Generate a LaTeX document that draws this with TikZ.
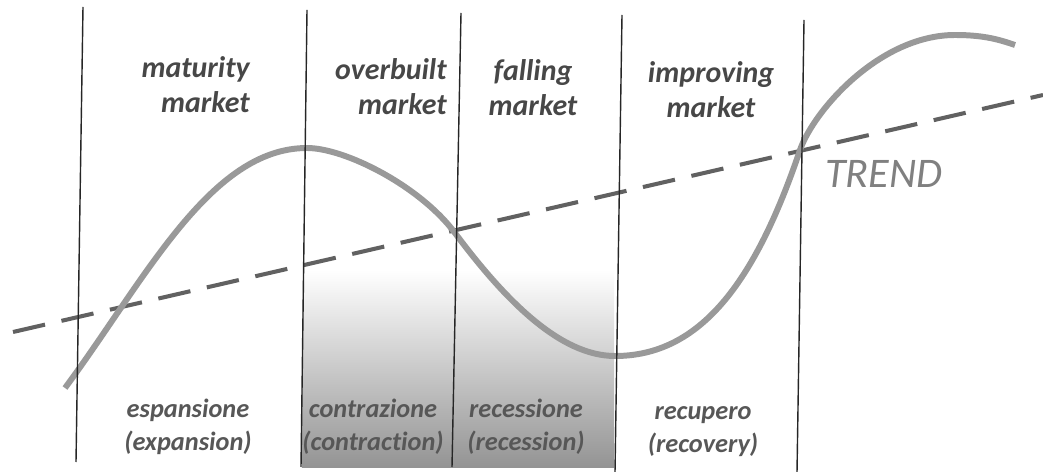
\documentclass[tikz,border=0pt]{standalone}
\usepackage{fontspec}
\setmainfont{Carlito}[Ligatures=NoCommon]

\begin{document}
\begin{tikzpicture}[x=0.02cm, y=-0.02cm,
    border/.style={line width=0.8pt, color=black!85},
    cyclecurve/.style={line width=3.4pt, color=black!40},
    trendline/.style={line width=2.3pt, color=black!62, dash pattern=on 18.7pt off 9.6pt},
    toplabel/.style={font=\fontsize{17}{20}\selectfont\bfseries\itshape, text=black!72, inner sep=0pt},
    botlabel/.style={font=\fontsize{15}{18.7}\selectfont\bfseries\itshape, text=black!66, inner sep=0pt, align=center}]
    %%%%% START %%%%%

    \useasboundingbox (0,0) rectangle (1043,472);

    % grey band under contraction and recession
    \shade[top color=white, bottom color=black!42] (302,270) rectangle (614,467);

    % long-run trend
    \draw[trendline] (13,332) -- (1043,95);

    % market cycle
    \draw[cyclecurve] (65,388) .. controls (145,280) and (210,148) .. (307,148)
        .. controls (345,148) and (420,186) .. (455,233)
        .. controls (505,300) and (560,356) .. (615,356)
        .. controls (700,356) and (755,283) .. (800,150)
        .. controls (814,110) and (880,35) .. (955,35)
        .. controls (985,35) and (1000,40) .. (1015,45);

    % phase borders
    \draw[border] (83,7) -- (76,462);
    \draw[border] (307,10) -- (301,467);
    \draw[border] (461,13) -- (452,467);
    \draw[border] (622,15) -- (615,472);
    \draw[border] (804,20) -- (797,472);

    % market phases
    \node[toplabel, align=right, anchor=base east] (maturity) at (250,113) {maturity\\market};
    \node[toplabel, align=right, anchor=base east] (overbuilt) at (447,115) {overbuilt\\market};
    \node[toplabel, align=center, anchor=base] (falling) at (533,116) {falling\\market};
    \node[toplabel, align=center, anchor=base] (improving) at (711,118) {improving\\market};

    \node[font=\fontsize{24}{24}\selectfont\itshape, text=black!50, inner sep=0pt, anchor=base west] (trend) at (825,188) {TREND};

    % cycle stages
    \node[botlabel, anchor=base] (expansion) at (188,450) {espansione\\(expansion)};
    \node[botlabel, anchor=base] (contraction) at (373,450) {contrazione\\(contraction)};
    \node[botlabel, anchor=base] (recession) at (526,450) {recessione\\(recession)};
    \node[botlabel, anchor=base] (recovery) at (703,452) {recupero\\(recovery)};

    %%%%% END %%%%%
\end{tikzpicture}
\end{document}
